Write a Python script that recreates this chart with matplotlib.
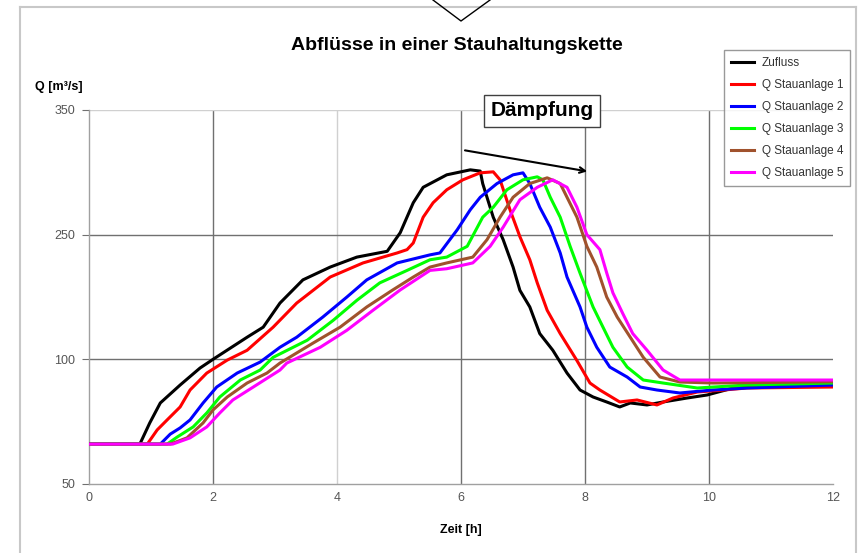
import numpy as np
import matplotlib
matplotlib.use('Agg')
import matplotlib.pyplot as plt
from matplotlib.lines import Line2D

plt.rcParams['font.family'] = ['Liberation Sans', 'DejaVu Sans']

# Zeit [h] und Abfluss Q [m3/s]
t_zu = [0, 0.5, 0.82, 0.98, 1.15, 1.47, 1.79, 2.0, 2.55, 2.81, 3.08, 3.45, 3.89, 4.32, 4.81, 5.02,
        5.23, 5.39, 5.77, 6.15, 6.31, 6.35, 6.52, 6.68, 6.84, 6.95, 7.11, 7.27, 7.48, 7.71, 7.92,
        8.13, 8.35, 8.56, 8.73, 9.0, 9.26, 9.65, 9.97, 10.39, 10.82, 12]
q_zu = [66, 66, 66, 74.5, 82.5, 89.7, 96.5, 100, 126.6, 138.7, 167.7, 195.6, 211, 223, 230, 251.6,
        275.6, 288, 298, 302, 301, 291, 264, 244, 211, 183, 163, 131, 111, 94.5, 87.7,
        84.9, 82.9, 80.9, 82.5, 81.7, 82.9, 84.5, 85.7, 88.5, 89.5, 89.7]

t_s1 = [0, 0.94, 1.10, 1.26, 1.47, 1.63, 1.90, 2.23, 2.55, 2.97, 3.35, 3.89, 4.42, 4.97, 5.13,
        5.23, 5.39, 5.55, 5.77, 6.03, 6.31, 6.52, 6.63, 6.79, 6.95, 7.11, 7.23, 7.39, 7.60, 7.87,
        8.08, 8.24, 8.56, 8.84, 9.16, 9.42, 9.81, 10.24, 10.61, 12]
q_s1 = [66, 66, 71.7, 75.7, 80.9, 87.7, 94.5, 99.7, 110.9, 138.7, 167.7, 199, 216, 228, 232,
        240, 264, 275.6, 286, 294, 299.6, 300.4, 294, 270, 247.6, 219.8, 192, 159, 131, 99.5,
        90.5, 87.7, 82.9, 83.7, 81.7, 84.5, 86.9, 87.7, 88.5, 88.9]

t_s2 = [0, 1.15, 1.31, 1.47, 1.63, 1.84, 2.06, 2.39, 2.76, 3.08, 3.35, 3.77, 4.16, 4.48, 4.97,
        5.50, 5.66, 5.94, 6.15, 6.31, 6.58, 6.84, 7.0, 7.11, 7.27, 7.44, 7.60, 7.71, 7.92, 8.03,
        8.19, 8.40, 8.68, 8.89, 9.16, 9.53, 10.06, 10.61, 12]
q_s2 = [66, 66, 70, 72.5, 75.7, 82.5, 88.9, 94.5, 98.9, 114.5, 126.6, 150.8, 175, 195.6, 216,
        225.7, 228, 254, 270, 280, 291, 298, 299.6, 291, 272, 256, 228, 199, 163, 138.7,
        114.5, 96.9, 92.9, 88.9, 87.7, 86.5, 87.7, 88.5, 89.7]

t_s3 = [0, 1.26, 1.42, 1.68, 1.90, 2.11, 2.44, 2.76, 2.97, 3.52, 3.94, 4.32, 4.69, 5.13, 5.50,
        5.77, 6.10, 6.35, 6.52, 6.74, 7.0, 7.23, 7.32, 7.44, 7.60, 7.76, 7.92, 8.13, 8.29, 8.45,
        8.68, 8.94, 9.26, 9.81, 10.61, 12]
q_s3 = [66, 66, 68.8, 72.9, 78.5, 84.9, 91.7, 95.7, 102.4, 123, 147, 171, 192, 207, 219.8,
        223, 236, 264, 272, 286, 294, 296.4, 294, 280, 264, 236, 203.7, 163, 138.7, 114.5,
        96.9, 91.7, 90.5, 88.5, 89.7, 90.5]

t_s4 = [0, 1.31, 1.58, 1.84, 2.0, 2.23, 2.55, 2.87, 3.08, 3.61, 4.05, 4.48, 4.90, 5.23, 5.50,
        5.77, 6.19, 6.42, 6.63, 6.84, 7.11, 7.39, 7.60, 7.71, 7.87, 8.03, 8.19, 8.35, 8.52, 8.73,
        8.94, 9.21, 9.53, 10.06, 12]
q_s4 = [66, 66, 68.5, 74.5, 79.7, 84.9, 90.5, 94.5, 98.5, 119.4, 138.7, 163, 183.5, 199, 211,
        216, 223, 244, 264, 280, 291, 295.6, 291, 280, 264, 236, 211, 175, 150.8, 126.6,
        102.4, 92.9, 90.9, 90.5, 91]

t_s5 = [0, 1.35, 1.63, 1.90, 2.11, 2.32, 2.65, 3.08, 3.19, 3.73, 4.16, 4.58, 5.02, 5.50, 5.77,
        6.19, 6.47, 6.68, 6.95, 7.23, 7.48, 7.71, 7.87, 8.03, 8.24, 8.35, 8.45, 8.61, 8.77, 9.0,
        9.26, 9.53, 10.61, 12]
q_s5 = [66, 66, 68.5, 72.9, 78.5, 83.7, 88.9, 95.7, 98.5, 114.5, 135, 159, 183.5, 207, 209,
        216, 236, 256, 278, 288, 294, 288, 272, 250, 232, 204, 180, 155, 131, 111,
        95.7, 91.7, 91.7, 91.7]

namen = ['Zufluss', 'Q Stauanlage 1', 'Q Stauanlage 2', 'Q Stauanlage 3', 'Q Stauanlage 4', 'Q Stauanlage 5']
farben = ['black', '#ff0000', '#0000ff', '#00ff00', '#a0522d', '#ff00ff']

y_ticks = [50, 100, 250, 350]
x_ticks = [0, 2, 4, 6, 8, 10, 12]

# Achse im Original: gleiche Abstaende fuer 50, 100, 250, 350
def vor(q):
    return np.interp(q, y_ticks, [0, 1, 2, 3])
def rueck(u):
    return np.interp(u, [0, 1, 2, 3], y_ticks)

fig = plt.figure(figsize=(8.64, 5.53), dpi=100)
ax = fig.add_axes([89/864, 1-484/553, (833-89)/864, (484-110)/553])
ax.set_yscale('function', functions=(vor, rueck))
ax.set_xlim(0, 12)
ax.set_ylim(50, 350)

# Gitterlinien
for xv in [2, 6, 8, 10]:
    ax.axvline(xv, color='#707070', lw=1, zorder=1)
ax.axvline(4, color='#d0d0d0', lw=1, zorder=1)
for yv in [100, 250]:
    ax.axhline(yv, color='#707070', lw=1, zorder=1)
ax.axhline(350, color='#d0d0d0', lw=1, zorder=1)

daten = [(t_zu, q_zu), (t_s1, q_s1), (t_s2, q_s2), (t_s3, q_s3), (t_s4, q_s4), (t_s5, q_s5)]
for (t, q), name, f in zip(daten, namen, farben):
    ax.plot(t, q, color=f, lw=2.2, label=name, zorder=3)

for s in ['top', 'right']:
    ax.spines[s].set_visible(False)
for s in ['left', 'bottom']:
    ax.spines[s].set_color('#a0a0a0')
    ax.spines[s].set_linewidth(1)

ax.set_yticks(y_ticks)
ax.set_yticklabels([str(v) for v in y_ticks])
ax.set_xticks(x_ticks)
ax.set_xticklabels([str(v) for v in x_ticks])
ax.tick_params(axis='y', length=5, color='#707070', labelsize=9, labelcolor='#555555', pad=5)
ax.tick_params(axis='x', length=0, labelsize=9, labelcolor='#555555', pad=6)
ax.minorticks_off()

ax.set_xlabel('Zeit [h]', fontsize=9, fontweight='bold', labelpad=14)
fig.text(35/864, 1-87/553, 'Q [m³/s]', fontsize=9, fontweight='bold', va='center')
fig.text(457/864, 1-45/553, 'Abflüsse in einer Stauhaltungskette', fontsize=14, fontweight='bold',
         ha='center', va='center')

# Daempfung
ax.annotate('', xy=(8.08, 300.4), xytext=(6.02, 318),
            arrowprops=dict(arrowstyle='->', color='black', lw=1.5), zorder=5)
fig.text(542/864, 1-111/553, 'Dämpfung', fontsize=15, fontweight='bold', ha='center', va='center',
         bbox=dict(boxstyle='square,pad=0.3', fc='white', ec='#404040', lw=1))

leg = fig.legend(loc='upper right', bbox_to_anchor=(856/864, 1-44/553), fontsize=8.5,
                 frameon=True, fancybox=False, edgecolor='#808080', handlelength=2.0,
                 labelspacing=0.85, borderpad=0.6, handletextpad=0.6)
leg.get_frame().set_linewidth(1)
for txt in leg.get_texts():
    txt.set_color('#333333')

# Rahmen und Spitze oben
fig.add_artist(Line2D([20/864, 20/864], [0, 1-7/553], color='#c8c8c8', lw=1.5))
fig.add_artist(Line2D([20/864, 856/864], [1-7/553, 1-7/553], color='#c8c8c8', lw=1.5))
fig.add_artist(Line2D([856/864, 856/864], [0, 1-7/553], color='#c8c8c8', lw=1.5))
fig.add_artist(Line2D([433/864, 461/864, 490/864], [1, 1-21/553, 1], color='black', lw=1))

fig.savefig('out.png', dpi=100)
